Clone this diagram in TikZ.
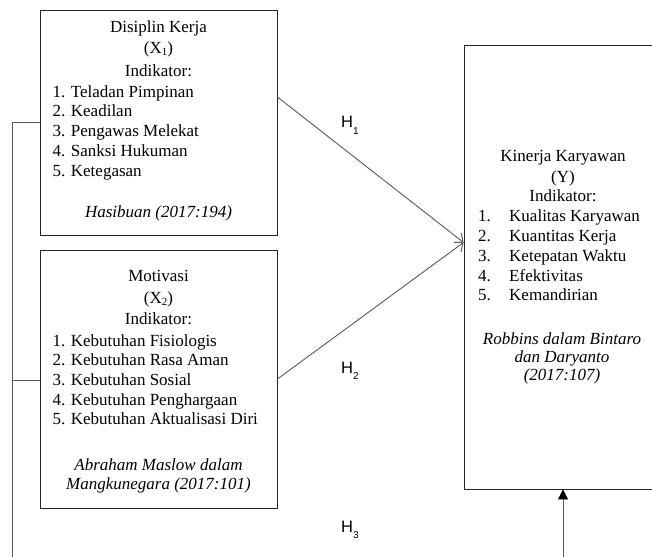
\documentclass[tikz,border=0pt]{standalone}
\usepackage{fontspec}
\setmainfont{Liberation Serif}
\newfontfamily\hfont{Liberation Sans}
\usetikzlibrary{arrows.meta}
\newcommand\xsub[1]{\raisebox{-2.5pt}{\fontsize{11}{11}\selectfont #1}}
\newcommand\hsub[1]{\raisebox{-6.5pt}{\fontsize{10}{10}\selectfont #1}}
\begin{document}
\begin{tikzpicture}[x=1pt,y=-1pt,
  box/.style={draw=black!85, line width=0.9pt, inner sep=0pt},
  txt/.style={inner sep=0pt, font=\fontsize{17}{19.7}\selectfont},
  cite/.style={txt, font=\fontsize{17}{19.7}\selectfont\itshape},
  conn/.style={draw=black!65, line width=0.9pt},
  hlab/.style={inner sep=0pt, font=\hfont\fontsize{16.5}{16.5}\selectfont}]
\useasboundingbox (0,0) rectangle (652,556);
\clip (0,0) rectangle (652,556);
% boxes
\node[box, minimum width=237pt, minimum height=225pt] (x1) at (158.5,122.5) {};
\node[box, minimum width=237pt, minimum height=258pt] (x2) at (158.5,379) {};
\node[box, minimum width=206pt, minimum height=444pt] (y) at (567,267) {};
% box 1 text
\node[txt, anchor=base] (x1a) at (158.5,32.5) {Disiplin Kerja};
\node[txt, anchor=base] (x1b) at (158.5,53.3) {(X\xsub{1})};
\node[txt, anchor=base] (x1c) at (158.5,76.5) {Indikator:};
\foreach \t [count=\i from 0] in {1. Teladan Pimpinan, 2. Keadilan, 3. Pengawas Melekat, 4. Sanksi Hukuman, 5. Ketegasan}
  \node[txt, anchor=base west] (x1i\i) at (52.3,{97.3+19.7*\i}) {\t};
\node[cite, anchor=base] (x1r) at (158.5,217) {Hasibuan (2017:194)};
% box 2 text
\node[txt, anchor=base] (x2a) at (158.5,281.7) {Motivasi};
\node[txt, anchor=base] (x2b) at (158.5,303) {(X\xsub{2})};
\node[txt, anchor=base] (x2c) at (158.5,324) {Indikator:};
\foreach \t [count=\i from 0] in {1. Kebutuhan Fisiologis, 2. Kebutuhan Rasa Aman, 3. Kebutuhan Sosial, 4. Kebutuhan Penghargaan, 5. Kebutuhan Aktualisasi Diri}
  \node[txt, anchor=base west] (x2i\i) at (52.3,{346+19.7*\i}) {\t};
\node[cite, anchor=base] (x2r) at (158.5,470.5) {Abraham Maslow dalam};
\node[cite, anchor=base] (x2s) at (158.5,489) {Mangkunegara (2017:101)};
% box Y text
\node[txt, anchor=base] (ya) at (563,161.7) {Kinerja Karyawan};
\node[txt, anchor=base] (yb) at (563,182.5) {(Y)};
\node[txt, anchor=base] (yc) at (563,201.7) {Indikator:};
\foreach \n/\t [count=\i from 0] in {1/Kualitas Karyawan, 2/Kuantitas Kerja, 3/Ketepatan Waktu, 4/Efektivitas, 5/Kemandirian}{
  \node[txt, anchor=base west] (yn\i) at (478,{221.7+19.8*\i}) {\n.};
  \node[txt, anchor=base west] (yt\i) at (509,{221.7+19.8*\i}) {\t};
}
\node[cite, anchor=base] (yr) at (562,344) {Robbins dalam Bintaro};
\node[cite, anchor=base] (ys) at (562,362) {dan Daryanto};
\node[cite, anchor=base] (yu) at (562,380) {(2017:107)};
% connectors
\coordinate (lt) at (12,122);
\coordinate (lm) at (12,380);
\coordinate (lb) at (12,570);
\coordinate (rb) at (563,570);
\draw[conn] (x1.west |- lt) -- (lt) -- (lb) -- (rb);
\draw[conn, -{Triangle[length=10pt,width=10pt,color=black]}] (rb) -- (y.south -| rb);
\draw[conn] (x2.west |- lm) -- (lm);
\coordinate (tip) at ([yshift=24.5pt]y.west);
\draw[conn, -{Straight Barb[length=7pt,width=12pt]}] ([yshift=25.5pt]x1.east) -- (tip);
\draw[conn, -{Straight Barb[length=7pt,width=12pt]}] (x2.east) -- (tip);
% labels
\node[hlab, anchor=base west] (h1) at (341,128) {H\hsub{1}};
\node[hlab, anchor=base west] (h2) at (341,373.3) {H\hsub{2}};
\node[hlab, anchor=base west] (h3) at (341,532) {H\hsub{3}};
\end{tikzpicture}
\end{document}
